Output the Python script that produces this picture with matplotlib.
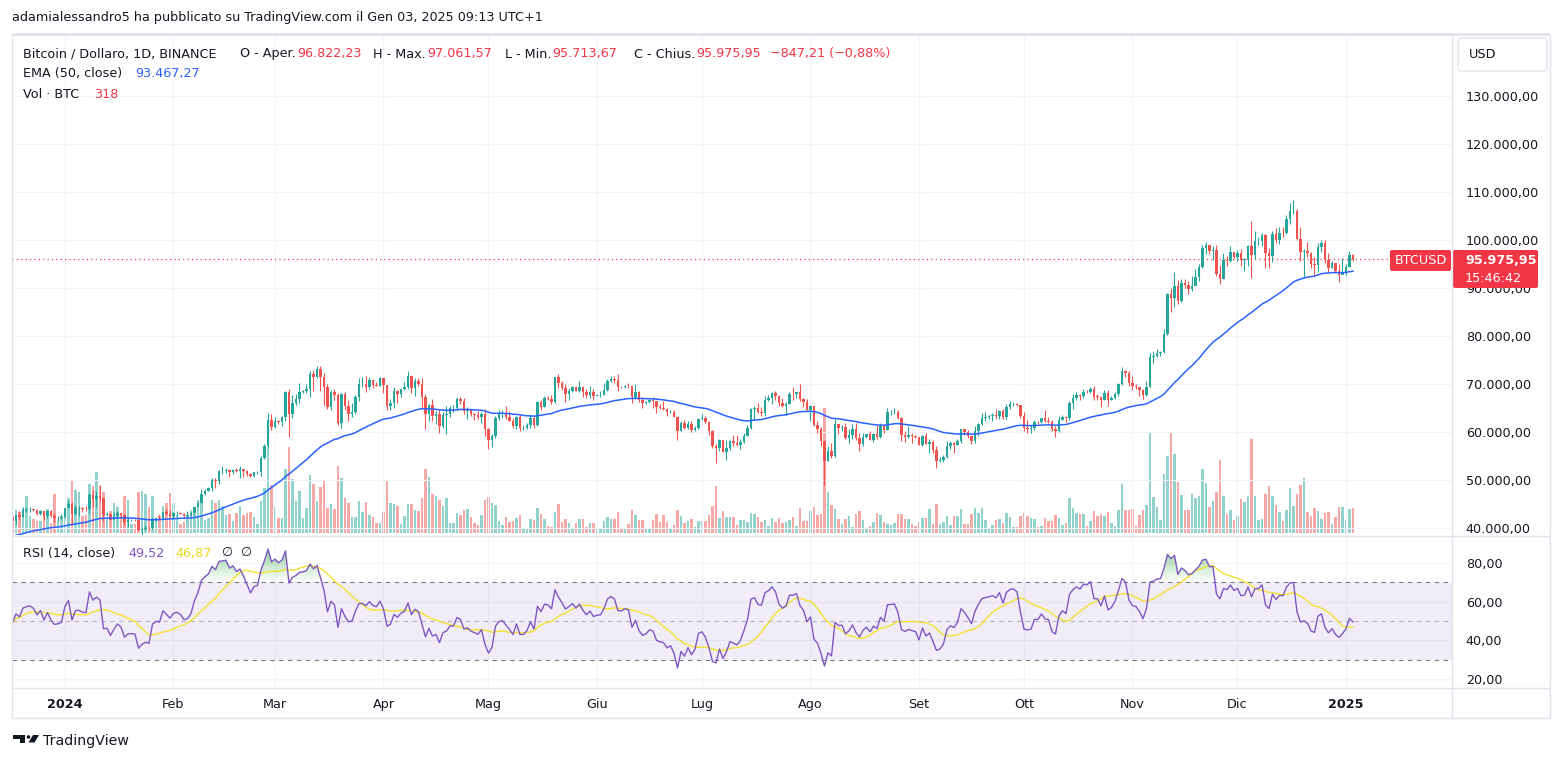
import numpy as np
import pandas as pd
import matplotlib
matplotlib.use('Agg')
import matplotlib.pyplot as plt
import matplotlib.colors as mcolors
from matplotlib.path import Path
from matplotlib.patches import FancyBboxPatch, Polygon, Circle

plt.rcParams['font.family'] = ['DejaVu Sans']

# ---- data (prices in thousands of USD) ----
dates = pd.date_range('2023-12-17', '2025-01-03', freq='D')
first_open = 42.25

closes = [
    # Dec 2023 (17-31)
    41.37, 42.66, 42.27, 43.65, 43.87, 43.99, 43.72, 43.01, 43.58, 42.51, 43.44, 42.58, 42.07, 42.14, 42.28,
    # Jan 2024
    44.18, 44.96, 42.85, 44.15, 44.16, 43.97, 43.93, 46.97, 46.12, 46.63, 46.34, 42.78, 42.84, 41.73, 42.51, 43.15,
    42.74, 41.26, 41.62, 41.66, 41.58, 39.53, 39.88, 40.08, 39.93, 41.80, 42.12, 42.03, 43.30, 42.94, 42.58,
    # Feb
    43.08, 43.19, 43.00, 42.58, 42.66, 43.09, 44.34, 45.29, 47.13, 47.75, 48.30, 49.92, 49.70, 51.81, 51.94,
    52.14, 51.64, 52.14, 51.78, 52.26, 51.85, 51.30, 50.74, 51.57, 51.73, 54.48, 57.04, 62.43, 61.13,
    # Mar
    62.39, 62.03, 63.17, 68.25, 63.80, 66.10, 66.92, 68.30, 68.50, 69.02, 72.12, 71.48, 73.10, 71.39, 69.40, 65.30,
    68.39, 67.61, 61.94, 67.84, 65.50, 63.80, 64.07, 67.23, 69.96, 69.99, 69.45, 70.78, 69.89, 69.65, 71.33,
    # Apr
    69.70, 65.46, 65.96, 68.50, 67.84, 68.90, 69.36, 71.62, 69.14, 70.59, 70.06, 67.20, 63.76, 65.70, 63.42,
    63.81, 61.28, 63.47, 63.82, 64.94, 64.94, 66.84, 66.41, 64.28, 64.50, 63.77, 63.46, 63.12, 63.84, 60.64,
    # May
    58.25, 59.12, 62.89, 63.89, 64.03, 63.16, 62.33, 61.19, 63.05, 60.79, 60.80, 61.45, 62.90, 61.55, 66.27, 65.23,
    67.05, 66.94, 66.27, 71.45, 70.14, 69.12, 67.93, 68.53, 69.28, 68.51, 69.39, 68.36, 67.63, 68.35, 67.49,
    # Jun
    67.71, 67.75, 68.80, 70.56, 71.08, 70.76, 69.34, 69.31, 69.65, 69.51, 67.32, 68.24, 66.75, 66.01, 66.19,
    66.64, 66.49, 65.17, 64.96, 64.83, 64.10, 64.26, 63.18, 60.28, 61.80, 60.86, 61.71, 60.32, 60.89, 62.68,
    # Jul
    62.85, 62.03, 60.20, 57.05, 56.64, 58.23, 55.85, 56.71, 58.05, 57.72, 57.34, 57.90, 59.21, 60.79, 64.72, 65.04,
    64.09, 63.97, 66.71, 67.16, 68.17, 67.54, 65.94, 65.37, 65.78, 67.91, 67.90, 68.23, 66.80, 66.20, 64.62,
    # Aug
    65.35, 61.50, 60.69, 58.16, 54.02, 56.04, 55.03, 61.71, 60.88, 60.95, 58.71, 59.35, 60.60, 58.74, 57.56, 58.87,
    59.49, 58.43, 59.49, 59.01, 61.16, 60.38, 64.10, 64.18, 64.26, 62.83, 59.42, 59.03, 59.38, 59.12, 58.97,
    # Sep
    57.30, 59.13, 57.49, 57.97, 56.16, 53.95, 54.16, 54.87, 57.05, 57.65, 57.34, 58.13, 60.57, 60.00, 59.18,
    58.21, 60.31, 61.76, 62.95, 63.20, 63.35, 63.58, 63.33, 64.30, 63.14, 65.18, 65.79, 65.89, 65.60, 63.30,
    # Oct
    60.80, 60.65, 60.75, 62.09, 62.06, 62.82, 62.22, 62.13, 60.58, 60.27, 62.45, 63.19, 62.85, 66.05, 67.04, 67.61,
    67.40, 68.42, 68.36, 69.00, 67.37, 67.36, 66.65, 68.16, 66.64, 67.01, 67.94, 69.91, 72.72, 72.32, 70.22,
    # Nov
    69.48, 69.36, 68.73, 67.79, 69.35, 75.58, 75.90, 76.54, 76.67, 80.37, 88.65, 88.00, 90.50, 87.30, 91.06,
    90.58, 89.85, 90.46, 92.31, 94.29, 98.32, 98.90, 97.70, 97.90, 93.01, 91.97, 95.86, 95.64, 97.46, 96.41,
    # Dec
    97.19, 95.84, 96.00, 98.77, 96.95, 99.74, 99.83, 101.11, 97.37, 96.59, 101.17, 100.04, 101.42, 101.38, 104.30,
    106.06, 106.14, 100.20, 97.46, 97.76, 97.22, 95.10, 94.69, 98.64, 99.30, 95.78, 94.17, 95.16, 93.53, 92.64, 93.43,
    # Jan 2025
    94.42, 96.82, 95.97595,
]

highs = [
    42.42, 42.76, 43.50, 44.28, 44.24, 44.40, 44.00, 43.95, 43.80, 43.60, 43.68, 43.80, 43.12, 42.60, 42.90,
    44.20, 45.88, 45.50, 44.77, 44.50, 44.43, 44.50, 47.25, 47.89, 47.70, 48.97, 46.50, 43.26, 43.07, 43.40, 43.58,
    43.20, 42.93, 42.20, 41.88, 41.87, 41.67, 40.13, 40.55, 40.28, 42.23, 42.20, 42.84, 43.31, 43.88, 43.74,
    43.29, 43.49, 43.38, 43.12, 43.49, 43.40, 44.39, 45.60, 48.20, 48.17, 48.59, 50.33, 50.37, 52.04, 52.82,
    52.57, 52.20, 52.38, 52.49, 52.98, 52.37, 52.08, 51.55, 51.70, 51.95, 54.91, 57.59, 63.93, 63.68,
    63.16, 62.43, 63.23, 68.50, 69.00, 67.63, 67.99, 70.14, 68.80, 70.00, 72.80, 73.00, 73.65, 73.78, 72.36, 70.00,
    68.85, 68.92, 68.11, 68.03, 68.24, 66.65, 65.98, 67.62, 71.15, 71.56, 71.73, 71.55, 70.91, 70.33, 71.37,
    71.33, 69.70, 66.91, 69.29, 68.73, 69.00, 70.33, 72.80, 71.76, 71.17, 71.26, 71.23, 67.93, 65.82, 66.87,
    64.36, 64.48, 64.12, 65.45, 65.39, 65.67, 67.23, 67.21, 67.08, 65.29, 64.80, 63.92, 64.37, 64.23, 64.73,
    60.78, 59.60, 63.32, 64.50, 64.65, 65.50, 64.42, 62.97, 63.42, 63.46, 61.49, 61.82, 63.45, 63.10, 66.44, 66.70,
    67.45, 67.40, 67.70, 71.52, 71.98, 70.63, 70.09, 69.22, 69.56, 69.50, 70.60, 69.55, 68.90, 69.50, 69.00,
    67.86, 68.44, 70.29, 71.06, 71.76, 71.63, 71.99, 69.56, 69.85, 70.15, 69.57, 70.00, 68.45, 67.30, 66.44,
    66.97, 67.19, 66.50, 65.73, 66.48, 65.07, 64.53, 64.50, 63.37, 62.37, 62.48, 62.27, 62.20, 61.21, 63.00,
    63.85, 63.29, 62.27, 60.50, 57.50, 58.48, 58.24, 58.28, 58.30, 59.47, 59.37, 58.55, 59.82, 61.42, 64.90, 65.38,
    66.13, 65.12, 67.44, 67.61, 68.37, 68.48, 67.81, 67.10, 66.16, 68.23, 69.40, 68.32, 70.08, 66.99, 66.83,
    65.59, 65.00, 62.20, 61.10, 58.30, 57.00, 57.73, 62.75, 61.75, 61.47, 61.86, 60.70, 61.58, 61.80, 59.85, 59.85,
    59.65, 60.27, 59.60, 61.40, 61.83, 61.43, 64.96, 64.52, 65.00, 64.48, 63.21, 60.23, 61.17, 59.82, 59.46,
    59.05, 59.40, 59.81, 58.52, 58.33, 56.99, 54.85, 55.30, 58.09, 58.04, 57.99, 58.59, 60.62, 60.66, 60.38,
    59.21, 61.32, 61.79, 63.87, 64.13, 63.56, 64.00, 64.75, 64.50, 64.82, 65.84, 66.50, 66.26, 66.08, 65.63,
    64.13, 62.40, 61.48, 62.48, 62.37, 63.00, 64.48, 63.20, 62.54, 61.32, 63.42, 63.48, 63.28, 66.50, 67.95, 68.42,
    67.93, 68.99, 68.69, 69.43, 69.50, 67.84, 67.45, 68.84, 68.77, 67.45, 68.35, 70.27, 73.62, 72.96, 72.67,
    71.63, 70.00, 69.43, 69.00, 70.58, 76.40, 76.85, 77.20, 76.94, 81.50, 89.00, 89.94, 93.27, 91.76, 91.85,
    91.80, 91.45, 92.59, 94.00, 94.90, 98.99, 99.59, 99.03, 98.65, 98.87, 94.74, 97.22, 96.65, 98.69, 97.46,
    97.90, 98.15, 96.30, 99.00, 103.90, 101.90, 100.55, 101.40, 101.20, 98.27, 101.90, 102.54, 102.65, 102.65, 105.25,
    107.78, 108.35, 106.48, 102.80, 98.12, 99.54, 97.42, 96.42, 99.45, 99.96, 99.90, 97.28, 95.53, 95.19, 94.90, 96.15,
    94.98, 97.70, 97.06,
]

lows = [
    41.25, 40.53, 41.80, 42.20, 43.30, 43.40, 43.56, 42.75, 42.72, 41.60, 42.10, 42.30, 41.30, 41.52, 41.97,
    42.18, 44.15, 40.75, 42.63, 42.44, 43.40, 43.57, 43.20, 44.30, 44.35, 45.60, 41.50, 42.44, 41.72, 41.70, 42.05,
    42.20, 40.68, 40.28, 41.45, 41.50, 39.43, 38.55, 39.48, 39.52, 39.82, 41.39, 41.62, 41.80, 42.68, 42.28,
    41.88, 42.58, 42.88, 42.22, 42.26, 42.57, 42.79, 44.33, 45.24, 46.80, 47.69, 47.70, 48.30, 49.26, 51.30,
    51.56, 50.63, 51.15, 51.68, 50.52, 50.63, 50.90, 50.53, 50.60, 51.28, 50.90, 54.45, 56.69, 60.36,
    60.77, 61.57, 61.32, 62.38, 59.00, 62.86, 65.58, 66.00, 68.10, 68.20, 67.19, 68.62, 71.33, 68.56, 65.63, 64.78,
    64.53, 66.59, 61.50, 60.78, 64.53, 62.26, 63.04, 63.80, 66.39, 69.28, 68.38, 68.91, 69.08, 69.51, 69.63,
    68.12, 64.49, 64.49, 65.06, 66.01, 67.24, 68.85, 69.04, 68.20, 67.52, 69.57, 65.09, 60.66, 62.30, 62.31,
    61.60, 59.77, 60.80, 59.60, 63.09, 64.24, 64.50, 65.86, 63.80, 62.79, 63.30, 62.40, 62.81, 61.79, 59.19,
    56.55, 56.94, 58.85, 62.59, 62.95, 62.70, 62.28, 60.88, 60.65, 60.19, 60.49, 60.63, 60.76, 60.83, 61.32, 64.60,
    65.11, 66.60, 65.86, 66.06, 69.16, 68.83, 66.30, 66.62, 68.40, 68.44, 68.25, 67.25, 67.10, 67.12, 66.60,
    67.40, 67.31, 67.61, 68.56, 70.38, 70.12, 68.50, 69.21, 69.10, 69.23, 66.05, 66.90, 66.30, 65.08, 65.90,
    66.02, 65.10, 64.06, 64.69, 64.50, 63.38, 63.94, 63.16, 58.40, 60.28, 60.70, 60.63, 60.06, 60.27, 60.68,
    62.52, 61.80, 59.42, 56.77, 53.49, 56.03, 55.74, 54.26, 56.20, 57.16, 57.10, 56.53, 57.78, 59.20, 60.63, 62.45,
    63.89, 63.25, 63.30, 66.44, 65.74, 66.57, 65.43, 65.12, 63.45, 65.74, 66.71, 67.07, 66.48, 65.30, 64.50,
    62.25, 61.20, 59.85, 57.10, 49.00, 53.98, 54.55, 54.74, 59.59, 60.30, 58.50, 57.63, 58.50, 58.43, 56.08, 57.10,
    58.78, 58.40, 57.86, 58.58, 58.78, 59.80, 60.35, 63.59, 63.78, 62.80, 58.12, 57.86, 58.75, 57.75, 58.74,
    57.20, 57.12, 57.40, 55.61, 55.67, 52.55, 53.74, 53.65, 54.60, 56.40, 55.55, 57.33, 57.64, 59.45, 58.70,
    57.50, 57.61, 59.17, 61.56, 62.35, 62.76, 62.36, 62.67, 62.70, 62.70, 62.67, 64.80, 65.44, 65.42, 62.86,
    60.16, 59.83, 59.83, 60.46, 61.66, 61.84, 62.13, 61.82, 60.30, 58.90, 60.08, 62.43, 62.05, 62.42, 64.81, 66.75,
    66.66, 67.13, 68.04, 68.10, 66.57, 66.74, 65.26, 66.58, 65.52, 66.57, 66.78, 67.58, 69.73, 71.43, 69.59,
    68.78, 69.05, 67.45, 66.84, 67.46, 69.32, 74.42, 75.60, 75.77, 76.49, 80.22, 85.07, 86.13, 86.67, 87.07,
    90.09, 88.73, 89.38, 90.89, 91.50, 94.13, 97.18, 97.10, 95.75, 92.60, 90.79, 91.80, 94.65, 95.34, 96.16,
    95.72, 94.50, 93.58, 94.66, 92.12, 95.98, 98.95, 98.69, 94.15, 94.26, 95.50, 99.31, 99.21, 100.61, 101.22,
    103.33, 105.32, 100.00, 95.70, 92.23, 96.40, 94.20, 92.40, 93.43, 97.60, 95.14, 93.35, 94.12, 93.05, 91.32, 92.86,
    92.80, 94.40, 95.71,
]

# volume bar heights (relative units)
volumes = [
    17, 23, 21, 25, 37, 17, 14, 12, 12, 20, 24, 10, 39, 12, 17,
    22, 35, 52, 43, 41, 17, 18, 49, 47, 61, 47, 41, 14, 22, 30, 26,
    20, 37, 33, 9, 9, 41, 42, 39, 26, 37, 13, 17, 27, 30, 40,
    30, 18, 9, 11, 18, 23, 19, 33, 37, 13, 15, 33, 30, 33, 27,
    18, 19, 12, 20, 27, 18, 20, 21, 16, 9, 32, 45, 85, 48,
    26, 15, 15, 64, 86, 54, 32, 42, 15, 25, 58, 49, 32, 46, 52, 25,
    29, 24, 67, 55, 35, 30, 16, 16, 32, 21, 31, 18, 16, 10, 10,
    21, 52, 30, 29, 27, 9, 17, 29, 29, 23, 22, 35, 64, 56, 39,
    37, 33, 27, 35, 10, 10, 20, 18, 23, 24, 16, 10, 8, 18, 33,
    36, 30, 28, 12, 8, 16, 11, 12, 15, 18, 4, 4, 14, 13, 25, 19,
    14, 7, 6, 21, 29, 11, 14, 10, 5, 10, 14, 14, 6, 10, 10,
    4, 5, 12, 16, 14, 14, 21, 5, 5, 9, 23, 18, 13, 13, 5,
    4, 13, 19, 11, 18, 11, 4, 8, 23, 17, 10, 12, 14, 6, 12,
    12, 12, 18, 27, 47, 15, 22, 16, 16, 16, 8, 13, 13, 11, 20, 19,
    16, 11, 13, 7, 15, 11, 15, 10, 11, 13, 16, 7, 25, 12, 12,
    22, 26, 18, 19, 125, 41, 28, 24, 14, 9, 14, 17, 6, 19, 22, 13,
    5, 7, 11, 20, 18, 11, 9, 8, 10, 19, 19, 14, 14, 9, 7,
    11, 15, 15, 24, 9, 29, 9, 11, 17, 8, 17, 17, 24, 9, 9,
    19, 25, 20, 25, 13, 5, 8, 13, 14, 10, 20, 16, 6, 6, 17,
    20, 17, 15, 14, 6, 7, 15, 12, 12, 18, 15, 8, 10, 35, 25, 20,
    19, 19, 7, 12, 22, 17, 19, 17, 21, 10, 7, 23, 49, 23, 23,
    24, 7, 18, 23, 28, 100, 36, 26, 13, 59, 77, 101, 79, 51, 38,
    23, 23, 39, 35, 37, 64, 50, 26, 32, 41, 73, 37, 19, 23, 13,
    17, 34, 31, 37, 94, 37, 13, 14, 39, 47, 37, 28, 21, 12, 23,
    45, 27, 39, 48, 55, 21, 17, 25, 22, 14, 20, 21, 9, 16, 26, 26,
    13, 24, 25,
]

ema_seed = 38.2              # EMA(50) value before the first visible candle
rsi_seed = (0.55, 0.50)      # Wilder average gain / loss before the first candle

tick_dates = pd.to_datetime(['2024-01-01', '2024-02-01', '2024-03-01', '2024-04-01', '2024-05-01',
                             '2024-06-01', '2024-07-01', '2024-08-01', '2024-09-01', '2024-10-01',
                             '2024-11-01', '2024-12-01', '2025-01-01'])
tick_labels = ['2024', 'Feb', 'Mar', 'Apr', 'Mag', 'Giu', 'Lug', 'Ago', 'Set', 'Ott', 'Nov', 'Dic', '2025']
price_ticks = [40, 50, 60, 70, 80, 90, 100, 110, 120, 130]
rsi_ticks = [20, 40, 60, 80]

assert len(closes) == len(highs) == len(lows) == len(volumes) == len(dates)

UP, DN = '#26A69A', '#EF5350'
RED = '#F23645'
TXT = '#131722'
LINE = '#E0E3EB'
GRID = '#F0F3FA'
FS = 9.2


def it_fmt(v):
    s = f"{v:,.2f}"
    return s.replace(',', 'X').replace('.', ',').replace('X', '.')


base = pd.Timestamp('2024-01-01')
x = (dates - base).days.to_numpy()
c = np.array(closes)
o = np.r_[first_open, c[:-1]]
h = np.array(highs)
l = np.array(lows)
v = np.array(volumes)
col = np.where(c >= o, UP, DN)

# EMA 50
ema = []
e = ema_seed
for p in c:
    e = e + 2 / 51 * (p - e)
    ema.append(e)

# RSI 14 (Wilder) and its 14-period SMA
delta = np.diff(np.r_[first_open, c])
ag, al = rsi_seed
rsi = []
for d in delta:
    ag = (ag * 13 + max(d, 0)) / 14
    al = (al * 13 + max(-d, 0)) / 14
    rsi.append(100 - 100 / (1 + ag / al))
rsi = np.array(rsi)
rsi_ma = pd.Series(rsi).rolling(14, min_periods=1).mean().to_numpy()

tick_pos = (tick_dates - base).days.to_numpy()

# ---- figure ----
W, H = 1563, 764
fig = plt.figure(figsize=(W / 100, H / 100), dpi=100)
fig.patch.set_facecolor('white')


def box(left, top, right, bottom):
    return [left / W, 1 - bottom / H, (right - left) / W, (bottom - top) / H]


XLIM = (-15.14, 396.29)

ax_vol = fig.add_axes(box(12, 35, 1452, 535))
ax = fig.add_axes(box(12, 35, 1452, 535))
ax_rsi = fig.add_axes(box(12, 537, 1452, 688))
ax.set_zorder(ax_vol.get_zorder() + 1)
ax.patch.set_visible(False)

# volume
ax_vol.bar(x, v, width=0.58, color=[mcolors.to_rgba(cc, 0.5) for cc in col], linewidth=0)
ax_vol.set_xlim(*XLIM)
ax_vol.set_ylim(-2, 498)
ax_vol.axis('off')

# price pane
ax.set_axisbelow(True)
ax.grid(True, color=GRID, lw=0.8)
ax.vlines(x, l, h, colors=col, linewidth=0.8, zorder=3)
ax.bar(x, np.maximum(np.abs(c - o), 0.07), bottom=np.minimum(o, c), width=0.66,
       color=col, linewidth=0, zorder=4)
ax.plot(x, ema, color='#2962FF', lw=1.1, zorder=5)
ax.axhline(c[-1], color=RED, lw=0.9, ls=(0, (1, 2.5)), zorder=2)
ax.set_xlim(*XLIM)
ax.set_ylim(38.542, 142.708)
ax.set_xticks(tick_pos)
ax.set_yticks(price_ticks)
ax.set_yticklabels([it_fmt(t * 1000) for t in price_ticks])
ax.yaxis.tick_right()
ax.tick_params(axis='y', length=0, pad=10, labelsize=FS, labelcolor=TXT)
ax.tick_params(axis='x', length=0, labelbottom=False)
for s in ax.spines.values():
    s.set_visible(False)


def gradient_fill(axis, xs, ys, level, edge, color, amax):
    lo, hi = sorted((level, edge))
    yy = np.maximum(ys, level) if edge > level else np.minimum(ys, level)
    coll = axis.fill_between(xs, level, yy, facecolor='none', edgecolor='none')
    paths = coll.get_paths()
    if not paths:
        return
    n = 64
    rgba = np.zeros((n, 1, 4))
    rgba[..., :3] = mcolors.to_rgb(color)
    ramp = np.linspace(0, amax, n)
    rgba[:, 0, 3] = ramp if edge > level else ramp[::-1]
    im = axis.imshow(rgba, extent=[xs[0], xs[-1], lo, hi], origin='lower',
                     aspect='auto', zorder=2, interpolation='bilinear')
    im.set_clip_path(Path.make_compound_path(*paths), transform=axis.transData)


# RSI pane
ax_rsi.set_axisbelow(True)
ax_rsi.grid(True, color=GRID, lw=0.8)
ax_rsi.axhspan(30, 70, color='#7E57C2', alpha=0.1, lw=0)
ax_rsi.axhline(70, color='#787B86', lw=0.8, ls=(0, (4, 4)))
ax_rsi.axhline(30, color='#787B86', lw=0.8, ls=(0, (4, 4)))
ax_rsi.axhline(50, color='#787B86', lw=0.8, alpha=0.5, ls=(0, (4, 4)))
gradient_fill(ax_rsi, x, rsi, 70, 86, '#4CAF50', 0.55)
gradient_fill(ax_rsi, x, rsi, 30, 15, '#F23645', 0.5)
ax_rsi.plot(x, rsi_ma, color='#F5E12E', lw=1, zorder=4)
ax_rsi.plot(x, rsi, color='#7E57C2', lw=1, zorder=5)
ax_rsi.set_xlim(*XLIM)
ax_rsi.set_ylim(15.34, 93.45)
ax_rsi.set_yticks(rsi_ticks)
ax_rsi.set_yticklabels([it_fmt(t) for t in rsi_ticks])
ax_rsi.yaxis.tick_right()
ax_rsi.tick_params(axis='y', length=0, pad=10, labelsize=FS, labelcolor=TXT)
ax_rsi.set_xticks(tick_pos)
ax_rsi.set_xticklabels(tick_labels)
ax_rsi.tick_params(axis='x', length=0, pad=7, labelsize=FS, labelcolor=TXT)
for lab in ax_rsi.get_xticklabels():
    if lab.get_text() in ('2024', '2025'):
        lab.set_fontweight('bold')
for s in ax_rsi.spines.values():
    s.set_visible(False)

# ---- overlay in pixel coordinates: frame, legends, labels ----
ov = fig.add_axes([0, 0, 1, 1], zorder=10)
ov.set_xlim(0, W)
ov.set_ylim(H, 0)
ov.axis('off')

for (x0, y0, x1, y1, lw) in [(12, 34, 1550, 34, 2.0), (12, 34, 12, 718, 1.0), (1550, 34, 1550, 718, 1.0),
                             (12, 718, 1550, 718, 1.0), (12, 536, 1550, 536, 1.0),
                             (12, 688, 1550, 688, 1.0), (1452, 34, 1452, 718, 1.0)]:
    ov.plot([x0, x1], [y0, y1], color=LINE, lw=lw, solid_capstyle='butt')

renderer = fig.canvas.get_renderer()


def txt(xp, yp, s, color=TXT, size=FS, **kw):
    return ov.text(xp, yp, s, color=color, fontsize=size, va='center', ha='left', **kw)


def chain(xp, yp, parts):
    # label and value placed back to back, like the TradingView legend
    for s, color in parts:
        t = txt(xp, yp, s, color)
        xp = t.get_window_extent(renderer).x1 + 1


txt(12, 18, 'adamialessandro5 ha pubblicato su TradingView.com il Gen 03, 2025 09:13 UTC+1')

txt(23, 54, 'Bitcoin / Dollaro, 1D, BINANCE')
chain(240, 54, [('O - Aper.', TXT), ('96.822,23', RED)])
chain(373, 54, [('H - Max.', TXT), ('97.061,57', RED)])
chain(505, 54, [('L - Min.', TXT), ('95.713,67', RED)])
chain(634, 54, [('C - Chius.', TXT), ('95.975,95', RED)])
txt(770, 54, '\u2212847,21 (\u22120,88%)', RED)

txt(23, 74, 'EMA (50, close)')
txt(135, 74, '93.467,27', '#2962FF')
txt(23, 95, 'Vol \u00b7 BTC')
txt(94, 95, '318', RED)

txt(23, 553, 'RSI (14, close)')
txt(128, 553, '49,52', '#7E57C2')
txt(175, 553, '46,87', '#E8D81C')
txt(221, 553, '\u2205')
txt(240, 553, '\u2205')

# currency box
ov.add_patch(FancyBboxPatch((1458, 38), 89, 33, boxstyle='round,pad=0,rounding_size=4',
                            facecolor='white', edgecolor=LINE, lw=1))
txt(1469, 55, 'USD')

# last price labels
ov.add_patch(FancyBboxPatch((1390, 250), 61, 21, boxstyle='round,pad=0,rounding_size=2',
                            facecolor=RED, edgecolor='none'))
ov.text(1420.5, 260.5, 'BTCUSD', color='white', fontsize=FS, va='center', ha='center')
ov.add_patch(FancyBboxPatch((1453, 250), 85, 38, boxstyle='round,pad=0,rounding_size=2',
                            facecolor=RED, edgecolor='none'))
txt(1465, 260, it_fmt(c[-1] * 1000), 'white', fontweight='bold')
txt(1465, 278, '15:46:42', 'white')

# TradingView logo
ov.add_patch(Polygon([(13, 735), (25, 735), (25, 742.5), (19.5, 742.5), (19.5, 738.5), (13, 738.5)],
                     closed=True, facecolor=TXT, edgecolor='none'))
ov.add_patch(Circle((28.5, 737), 1.8, facecolor=TXT, edgecolor='none'))
ov.add_patch(Polygon([(33, 735), (39, 735), (34.5, 742.5), (28.5, 742.5)],
                     closed=True, facecolor=TXT, edgecolor='none'))
txt(43, 741, 'TradingView', size=10.2)

fig.savefig('out.png', dpi=100, facecolor='white')
